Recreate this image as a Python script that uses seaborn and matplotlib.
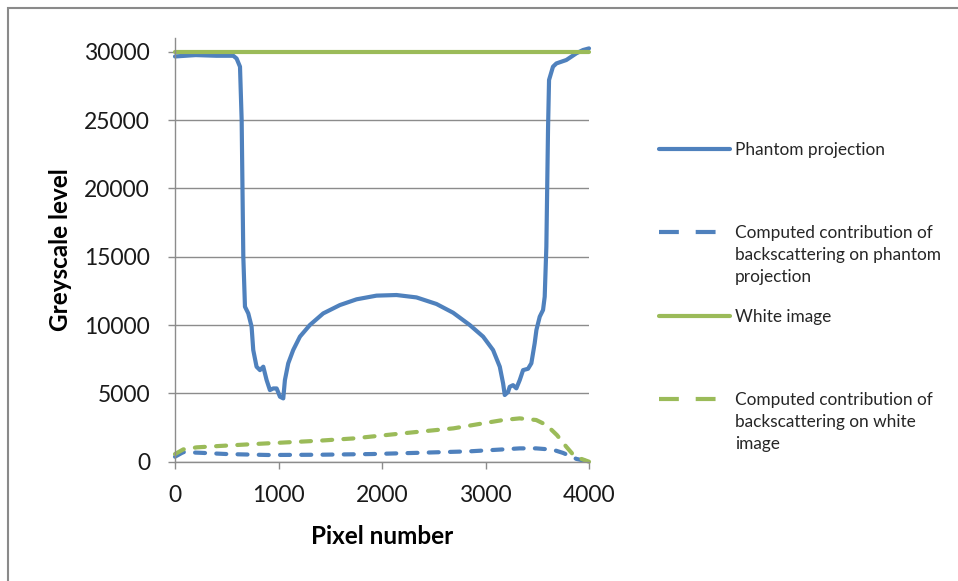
import numpy as np
import pandas as pd
import seaborn as sns
import matplotlib.pyplot as plt
from matplotlib.lines import Line2D
from matplotlib.patches import Rectangle

# valores
px_phantom = [0, 200, 400, 563, 595, 628, 644, 660, 676, 708, 740, 756, 788, 821, 853, 885,
              917, 949, 982, 1014, 1046, 1062, 1094, 1142, 1207, 1303, 1432, 1593, 1754, 1947,
              2140, 2333, 2526, 2687, 2848, 2977, 3073, 3138, 3170, 3186, 3218, 3234, 3266,
              3298, 3331, 3363, 3411, 3443, 3475, 3492, 3524, 3556, 3572, 3588, 3604, 3614,
              3652, 3685, 3781, 3878, 3942, 4000]
gl_phantom = [29650, 29750, 29700, 29700, 29500, 28900, 25000, 15000, 11340, 10850, 9880, 8170,
              6950, 6700, 6950, 5975, 5240, 5360, 5360, 4756, 4630, 5975, 7195, 8170, 9150,
              10000, 10850, 11460, 11880, 12150, 12195, 12020, 11540, 10900, 10000, 9150, 8170,
              6950, 5730, 4880, 5100, 5480, 5600, 5366, 5975, 6700, 6800, 7200, 8660, 9640,
              10610, 11100, 12070, 15730, 24270, 27930, 28900, 29140, 29390, 29880, 30120, 30240]

px_back_phantom = [0, 80, 250, 500, 900, 1400, 1900, 2400, 2850, 3170, 3330, 3490, 3650, 3750, 3880, 4000]
gl_back_phantom = [365, 700, 650, 560, 490, 510, 560, 660, 760, 900, 975, 975, 880, 640, 200, 0]

px_white = [0, 4000]
gl_white = [30000, 30000]

px_back_white = [0, 80, 210, 430, 760, 1080, 1400, 1720, 2040, 2360, 2690, 3010, 3170, 3330, 3490, 3590, 3690, 3780, 3850, 3910, 4000]
gl_back_white = [560, 900, 1050, 1150, 1290, 1415, 1540, 1700, 1950, 2195, 2440, 2850, 3050, 3170, 3050, 2680, 1950, 1100, 490, 250, 0]

labels = ["Phantom projection",
          "Computed contribution of\nbackscattering on phantom\nprojection",
          "White image",
          "Computed contribution of\nbackscattering on white\nimage"]

azul = "#4F81BD"
verde = "#9BBB59"

sns.set_theme(style="white")
plt.rcParams['font.family'] = ['Lato', 'DejaVu Sans']

fig = plt.figure(figsize=(9.58, 5.81), dpi=100)
ax = fig.add_axes([175 / 958, 1 - 461.7 / 581, 414 / 958, 423.7 / 581])

dash = (0, (2.4, 2.7))
series = [
    (px_phantom, gl_phantom, azul, '-'),
    (px_back_phantom, gl_back_phantom, azul, dash),
    (px_white, gl_white, verde, '-'),
    (px_back_white, gl_back_white, verde, dash),
]
for x, y, cor, ls in series:
    df = pd.DataFrame({'pixel': x, 'grey': y})
    sns.lineplot(data=df, x='pixel', y='grey', ax=ax, color=cor, linewidth=3,
                 linestyle=ls, dash_capstyle='round', solid_capstyle='round',
                 solid_joinstyle='round', clip_on=False)

ax.set_xlim(0, 4000)
ax.set_ylim(0, 31000)
ax.set_xticks([0, 1000, 2000, 3000, 4000])
ax.set_yticks([0, 5000, 10000, 15000, 20000, 25000, 30000])
ax.grid(axis='y', color='#8c8c8c', linewidth=1)
ax.grid(axis='x', visible=False)
for s in ['top', 'right']:
    ax.spines[s].set_visible(False)
for s in ['left', 'bottom']:
    ax.spines[s].set_color('#8c8c8c')
    ax.spines[s].set_linewidth(1)
ax.tick_params(axis='both', which='major', direction='out', length=5, width=1,
               color='#8c8c8c', labelsize=16.5, labelcolor='#1a1a1a')
ax.tick_params(axis='y', pad=13, left=True)
ax.tick_params(axis='x', pad=12, bottom=True)

ax.set_xlabel("Pixel number", fontsize=17.5, fontweight='bold', color='black')
ax.xaxis.label.set_va('center')
ax.xaxis.set_label_coords(0.5, -(537 - 461.7) / 423.7)
ax.set_ylabel("Greyscale level", fontsize=17.5, fontweight='bold', color='black')
ax.yaxis.label.set_va('center')
ax.yaxis.set_label_coords((61 - 175) / 414, 0.5)

# legenda feita a mao (espacamento irregular como no original)
leg_y = [149, 232, 316, 399]
leg_style = ['-', (0, (20 / 4.2, 17 / 4.2)), '-', (0, (20 / 4.2, 17 / 4.2))]
leg_cor = [azul, azul, verde, verde]
for yy, lab, ls, cor in zip(leg_y, labels, leg_style, leg_cor):
    yf = 1 - yy / 581
    fig.add_artist(Line2D([659 / 958, 730 / 958], [yf, yf], color=cor, linewidth=3,
                          linestyle=ls, transform=fig.transFigure))
    fig.text(735 / 958, 1 - (yy - 7) / 581, lab, fontsize=12.4, color='#262626',
             va='top', ha='left', linespacing=1.45)

# moldura do grafico
fig.add_artist(Rectangle((7.5 / 958, -0.1), 1.2, 1.1 - 7.5 / 581, transform=fig.transFigure,
                         fill=False, edgecolor='#8a8a8a', linewidth=1.5))

fig.savefig('out.png', dpi=100)
